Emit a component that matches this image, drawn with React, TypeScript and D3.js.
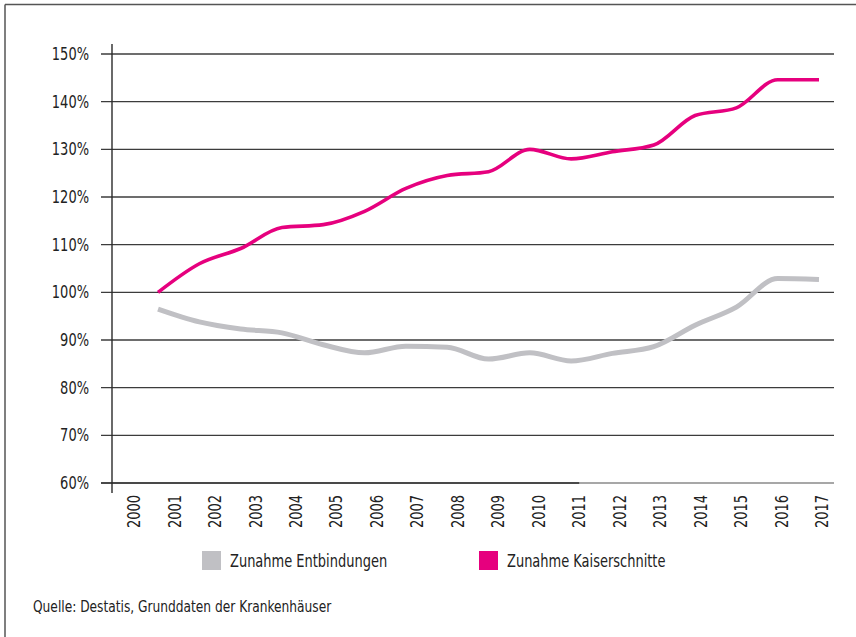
import React from "react";
import * as d3 from "d3";

const years = [2000, 2001, 2002, 2003, 2004, 2005, 2006, 2007, 2008, 2009, 2010, 2011, 2012, 2013, 2014, 2015, 2016, 2017];
const dataYears = [2001, 2002, 2003, 2004, 2005, 2006, 2007, 2008, 2009, 2010, 2011, 2012, 2013, 2014, 2015, 2016, 2017];
const entbindungen = [96.5, 93.8, 92.3, 91.5, 89.0, 87.3, 88.7, 88.5, 86.0, 87.3, 85.6, 87.2, 88.6, 93.1, 96.9, 102.9, 102.7];
const kaiserschnitte = [100, 106.0, 109.2, 113.6, 114.2, 117.0, 121.8, 124.5, 125.3, 130.0, 128.0, 129.5, 130.9, 137.1, 138.7, 144.6, 144.6];
const yTicks = [60, 70, 80, 90, 100, 110, 120, 130, 140, 150];
const seriesNames = ["Zunahme Entbindungen", "Zunahme Kaiserschnitte"];
const sourceText = "Quelle: Destatis, Grunddaten der Krankenhäuser";

const FONT = "'DejaVu Sans Condensed', 'DejaVu Sans', sans-serif";
const GRAY = "#c0c0c4";
const PINK = "#e6007e";
const SX = 0.85;

function T({ x, y, anchor = "start", rotate = 0, size = 17, dy = "0", children }: any) {
  return (
    <text
      transform={`translate(${x},${y}) rotate(${rotate}) scale(${SX},1)`}
      dy={dy}
      textAnchor={anchor}
      fontFamily={FONT}
      fontSize={size}
      fill="#222"
    >
      {children}
    </text>
  );
}

export default function App() {
  const W = 856, H = 637;
  const y = d3.scaleLinear().domain([60, 150]).range([483, 54]);
  const xData = d3.scalePoint<number>().domain(years).range([116.7, 819]);
  const xLab = d3.scalePoint<number>().domain(years).range([134, 822]);
  const axisX = 112;
  const gridLeft = 101;
  const gridRight = 834;

  const line = d3
    .line<number>()
    .x((_, i) => xData(dataYears[i]) as number)
    .y((v) => y(v))
    .curve(d3.curveMonotoneX);

  return (
    <svg width={W} height={H} style={{ display: "block", position: "absolute", left: 0, top: 0, background: "#fff" }}>
      <rect x={0} y={0} width={W} height={H} fill="#fff" />
      {/* frame (top + left) */}
      <line x1={5} y1={4.5} x2={W} y2={4.5} stroke="#555" strokeWidth={1.5} />
      <line x1={5} y1={4.5} x2={5} y2={H} stroke="#555" strokeWidth={1.5} />

      {/* grid lines */}
      {yTicks.map((t) => (
        <line
          key={t}
          x1={gridLeft}
          x2={gridRight}
          y1={y(t)}
          y2={y(t)}
          stroke={t === 60 ? "#8a8a8a" : "#3c3c3c"}
          strokeWidth={1.4}
        />
      ))}
      {/* darker axis portion */}
      <line x1={gridLeft} x2={xLab(2011) as number} y1={y(60)} y2={y(60)} stroke="#2a2a2a" strokeWidth={1.6} />
      {/* y axis */}
      <line x1={axisX} x2={axisX} y1={44} y2={493} stroke="#2a2a2a" strokeWidth={1.4} />

      {/* y labels */}
      {yTicks.map((t) => (
        <T key={t} x={89} y={y(t)} dy="0.36em" anchor="end">
          {t}%
        </T>
      ))}

      {/* x labels */}
      {years.map((yr) => (
        <T key={yr} x={xLab(yr)} y={495} rotate={-90} dy="0.36em" anchor="end">
          {yr}
        </T>
      ))}

      {/* lines */}
      <path d={line(entbindungen) || ""} fill="none" stroke={GRAY} strokeWidth={5} strokeLinejoin="round" />
      <path d={line(kaiserschnitte) || ""} fill="none" stroke={PINK} strokeWidth={3.6} strokeLinejoin="round" />

      {/* legend */}
      <rect x={202} y={551} width={19} height={19} fill={GRAY} />
      <T x={230} y={567}>{seriesNames[0]}</T>
      <rect x={479} y={551} width={19} height={19} fill={PINK} />
      <T x={507} y={567}>{seriesNames[1]}</T>

      {/* source */}
      <T x={33} y={612} size={16}>{sourceText}</T>
    </svg>
  );
}
